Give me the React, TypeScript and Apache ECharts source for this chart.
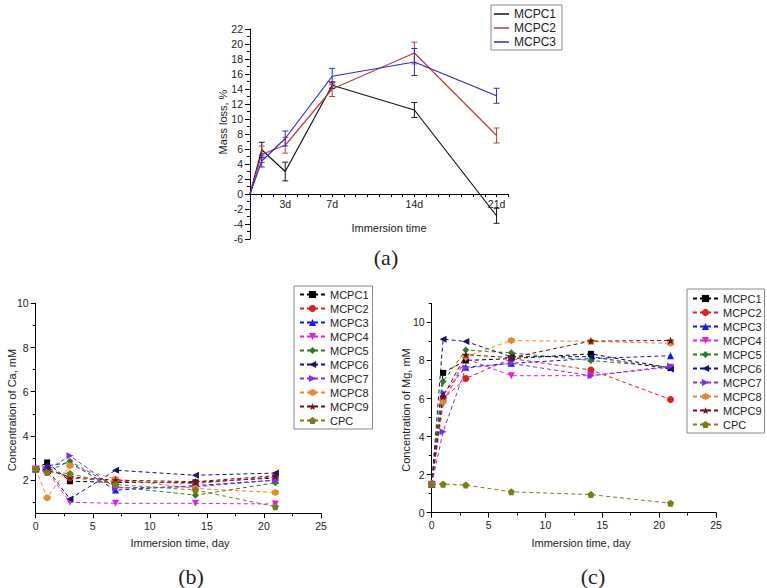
import React, { useEffect, useRef } from 'react';
import * as echarts from 'echarts';

// ---------- (a) Mass loss ----------
const daysA = [0, 1, 3, 7, 14, 21];
const namesA = ['MCPC1', 'MCPC2', 'MCPC3'];
const massLossMCPC1 = [0, 5.9, 3.0, 14.5, 11.2, -2.9];
const massLossMCPC2 = [0, 5.3, 6.5, 14.0, 18.8, 7.8];
const massLossMCPC3 = [0, 4.4, 7.4, 15.7, 17.6, 13.1];
const errMCPC1 = [0, 1.0, 1.25, 0.4, 1.0, 1.0];
const errMCPC2 = [0, 1.1, 1.05, 1.0, 1.45, 1.0];
const errMCPC3 = [0, 0.8, 1.0, 1.05, 1.8, 1.0];
const xTickLabelsA = [3, 7, 14, 21];
const yTicksA = [-6, 22];

// ---------- (b) Ca and (c) Mg ----------
const days = [0, 1, 3, 7, 14, 21];
const sampleNames = ['MCPC1', 'MCPC2', 'MCPC3', 'MCPC4', 'MCPC5', 'MCPC6', 'MCPC7', 'MCPC8', 'MCPC9', 'CPC'];

const caMCPC1 = [2.5, 2.8, 1.95, 1.9, 1.9, 2.1];
const caMCPC2 = [2.5, 2.55, 2.1, 1.95, 1.85, 2.15];
const caMCPC3 = [2.5, 2.65, 2.8, 1.55, 1.75, 2.0];
const caMCPC4 = [2.5, 2.4, 1.0, 0.95, 0.95, 0.92];
const caMCPC5 = [2.5, 2.4, 2.85, 1.7, 1.32, 1.88];
const caMCPC6 = [2.5, 2.5, 1.15, 2.45, 2.22, 2.32];
const caMCPC7 = [2.5, 2.45, 3.1, 1.65, 1.7, 2.0];
const caMCPC8 = [2.5, 1.2, 2.65, 2.05, 1.62, 1.44];
const caMCPC9 = [2.5, 2.45, 2.15, 2.0, 1.93, 2.2];
const caCPC = [2.5, 2.35, 2.3, 1.8, 1.55, 0.8];

const mgMCPC1 = [1.5, 7.35, 8.0, 8.1, 8.35, 7.6];
const mgMCPC2 = [1.5, 6.0, 7.05, 8.1, 7.5, 5.95];
const mgMCPC3 = [1.5, 6.25, 7.65, 7.85, 8.1, 8.25];
const mgMCPC4 = [1.5, 5.7, 8.1, 7.2, 7.2, 7.65];
const mgMCPC5 = [1.5, 6.9, 8.55, 8.4, 8.0, 7.65];
const mgMCPC6 = [1.5, 9.12, 9.0, 8.2, 8.2, 7.55];
const mgMCPC7 = [1.5, 4.25, 7.6, 7.85, 7.2, 7.7];
const mgMCPC8 = [1.5, 5.85, 8.2, 9.05, 9.0, 8.9];
const mgMCPC9 = [1.5, 6.1, 8.3, 8.15, 9.02, 9.05];
const mgCPC = [1.5, 1.5, 1.45, 1.1, 0.95, 0.5];

const caLabels = [2, 4, 6, 8, 10];
const caMinor = [1, 3, 5, 7, 9];
const mgLabels = [0, 2, 4, 6, 8, 10];
const mgMinor = [1, 3, 5, 7, 9, 11];

const caSeries = [caMCPC1, caMCPC2, caMCPC3, caMCPC4, caMCPC5, caMCPC6, caMCPC7, caMCPC8, caMCPC9, caCPC];
const mgSeries = [mgMCPC1, mgMCPC2, mgMCPC3, mgMCPC4, mgMCPC5, mgMCPC6, mgMCPC7, mgMCPC8, mgMCPC9, mgCPC];
const massSeries = [massLossMCPC1, massLossMCPC2, massLossMCPC3];
const errSeries = [errMCPC1, errMCPC2, errMCPC3];

// ---------- styles ----------
const FONT = 'Liberation Sans, Arial, sans-serif';
const SERIF = 'Liberation Serif, Times New Roman, serif';
const colorsA = ['#151515', '#c23a3a', '#2b2bd2'];
const colorsBC = ['#000000', '#e02020', '#1414ff', '#e020e0', '#2f7d1e', '#12127a', '#7b30f0', '#e8892e', '#6b1212', '#7d7d14'];
const HEX = 'path://M-8.66,-5 L0,-10 L8.66,-5 L8.66,5 L0,10 L-8.66,5 Z';
const STAR = 'path://M0,-10 L2.35,-3.24 L9.51,-3.09 L3.8,1.24 L5.88,8.09 L0,4 L-5.88,8.09 L-3.8,1.24 L-9.51,-3.09 L-2.35,-3.24 Z';
const PENT = 'path://M0,-10 L9.51,-3.09 L5.88,8.09 L-5.88,8.09 L-9.51,-3.09 Z';
const symbols = ['rect', 'circle', 'triangle', 'triangle', 'diamond', 'triangle', 'triangle', HEX, STAR, PENT];
const rotates = [0, 0, 0, 180, 0, 90, -90, 0, 0, 0];
const symSizes = [6, 7, 7, 7, 7, 7, 7, 7, 8, 7];

const lbl = { color: '#222', fontSize: 10.5, fontFamily: FONT };
const axLine = { show: true, onZero: false, lineStyle: { color: '#000', width: 1 } };
const tickStyle = { color: '#000', width: 1 };

function buildOption() {
  const series: any[] = [];
  // (a) lines
  massSeries.forEach((vals, i) => {
    series.push({
      type: 'line',
      name: 'a-' + namesA[i],
      xAxisIndex: 0,
      yAxisIndex: 0,
      symbol: 'none',
      data: daysA.map((d, j) => [d, vals[j]]),
      lineStyle: { color: colorsA[i], width: 1.2 },
      itemStyle: { color: colorsA[i] },
      z: 3,
    });
  });
  // (a) error bars
  massSeries.forEach((vals, i) => {
    const color = colorsA[i];
    series.push({
      type: 'custom',
      name: 'err-' + namesA[i],
      xAxisIndex: 0,
      yAxisIndex: 0,
      z: 4,
      encode: { x: 0, y: 1 },
      data: daysA.map((d, j) => [d, vals[j], errSeries[i][j]]).filter((r) => r[2] > 0),
      renderItem: (params: any, api: any) => {
        const x = api.value(0);
        const y = api.value(1);
        const e = api.value(2);
        const top = api.coord([x, y + e]);
        const bot = api.coord([x, y - e]);
        const hw = 3;
        const st = { stroke: color, lineWidth: 1 };
        return {
          type: 'group',
          children: [
            { type: 'line', shape: { x1: top[0], y1: top[1], x2: bot[0], y2: bot[1] }, style: st },
            { type: 'line', shape: { x1: top[0] - hw, y1: top[1], x2: top[0] + hw, y2: top[1] }, style: st },
            { type: 'line', shape: { x1: bot[0] - hw, y1: bot[1], x2: bot[0] + hw, y2: bot[1] }, style: st },
          ],
        };
      },
    });
  });
  // (b) and (c)
  const addPanel = (prefix: string, data: number[][], xi: number, yi: number) => {
    data.forEach((vals, i) => {
      series.push({
        type: 'line',
        name: prefix + sampleNames[i],
        xAxisIndex: xi,
        yAxisIndex: yi,
        symbol: symbols[i],
        symbolSize: symSizes[i],
        symbolRotate: rotates[i],
        showSymbol: true,
        data: days.map((d, j) => [d, vals[j]]),
        lineStyle: { color: colorsBC[i], width: 1, type: [4, 3] },
        itemStyle: { color: colorsBC[i] },
        z: 3,
      });
    });
  };
  addPanel('b-', caSeries, 1, 1);
  addPanel('c-', mgSeries, 2, 3);

  const legendCommon = {
    orient: 'vertical',
    selectedMode: false,
    borderColor: '#888',
    borderWidth: 1,
    backgroundColor: '#fff',
    formatter: (n: string) => n.slice(2),
  };

  const txt = (text: string, x: number, y: number, rot = 0, size = 11, family = FONT) => ({
    type: 'text',
    x,
    y,
    rotation: rot,
    style: {
      text,
      fontSize: size,
      fontFamily: family,
      fill: '#222',
      align: 'center',
      verticalAlign: 'middle',
      textAlign: 'center',
      textVerticalAlign: 'middle',
    },
  });

  return {
    animation: false,
    backgroundColor: '#fff',
    grid: [
      { left: 250, top: 29, width: 258.3, height: 210 },
      { left: 35.7, top: 303.3, width: 285.3, height: 210 },
      { left: 431.7, top: 303.4, width: 284.3, height: 209.3 },
    ],
    xAxis: [
      {
        gridIndex: 0,
        type: 'value',
        min: 0,
        max: 22,
        interval: 1,
        position: 'bottom',
        offset: -45,
        axisLine: axLine,
        axisTick: { show: true, length: 3, lineStyle: tickStyle },
        axisLabel: { ...lbl, customValues: xTickLabelsA, formatter: (v: number) => v + 'd', margin: 4 },
        splitLine: { show: false },
      },
      {
        gridIndex: 1,
        type: 'value',
        min: 0,
        max: 25,
        interval: 5,
        position: 'bottom',
        axisLine: axLine,
        axisTick: { show: true, length: 5, lineStyle: tickStyle },
        minorTick: { show: true, splitNumber: 2, length: 3, lineStyle: tickStyle },
        axisLabel: { ...lbl, margin: 7 },
        splitLine: { show: false },
      },
      {
        gridIndex: 2,
        type: 'value',
        min: 0,
        max: 25,
        interval: 5,
        position: 'bottom',
        axisLine: axLine,
        axisTick: { show: true, length: 5, lineStyle: tickStyle },
        minorTick: { show: true, splitNumber: 2, length: 3, lineStyle: tickStyle },
        axisLabel: { ...lbl, margin: 7 },
        splitLine: { show: false },
      },
    ],
    yAxis: [
      {
        gridIndex: 0,
        type: 'value',
        min: yTicksA[0],
        max: yTicksA[1],
        interval: 2,
        position: 'left',
        axisLine: axLine,
        axisTick: { show: true, length: 5, lineStyle: tickStyle },
        minorTick: { show: true, splitNumber: 2, length: 3, lineStyle: tickStyle },
        axisLabel: { ...lbl, margin: 7 },
        splitLine: { show: false },
      },
      {
        gridIndex: 1,
        type: 'value',
        min: 0.5,
        max: 10,
        position: 'left',
        axisLine: axLine,
        axisTick: { show: true, length: 5, customValues: caLabels, lineStyle: tickStyle },
        axisLabel: { ...lbl, customValues: caLabels, margin: 7 },
        splitLine: { show: false },
      },
      {
        gridIndex: 1,
        type: 'value',
        min: 0.5,
        max: 10,
        position: 'left',
        axisLine: { show: false, onZero: false },
        axisTick: { show: true, length: 3, customValues: caMinor, lineStyle: tickStyle },
        axisLabel: { show: false },
        splitLine: { show: false },
      },
      {
        gridIndex: 2,
        type: 'value',
        min: 0,
        max: 11,
        position: 'left',
        axisLine: axLine,
        axisTick: { show: true, length: 5, customValues: mgLabels, lineStyle: tickStyle },
        axisLabel: { ...lbl, customValues: mgLabels, margin: 7 },
        splitLine: { show: false },
      },
      {
        gridIndex: 2,
        type: 'value',
        min: 0,
        max: 11,
        position: 'left',
        axisLine: { show: false, onZero: false },
        axisTick: { show: true, length: 3, customValues: mgMinor, lineStyle: tickStyle },
        axisLabel: { show: false },
        splitLine: { show: false },
      },
    ],
    legend: [
      {
        ...legendCommon,
        data: namesA.map((n) => 'a-' + n),
        left: 491,
        top: 5,
        padding: [3, 6, 2, 3],
        icon: 'rect',
        itemWidth: 15,
        itemHeight: 1.5,
        itemGap: 2,
        textStyle: { fontSize: 12, lineHeight: 12, fontFamily: FONT, color: '#222' },
      },
      {
        ...legendCommon,
        data: sampleNames.map((n) => 'b-' + n),
        left: 294,
        top: 286,
        padding: [3, 4, 3, 5],
        itemWidth: 25,
        itemHeight: 9,
        itemGap: 3,
        textStyle: { fontSize: 11, lineHeight: 11, fontFamily: FONT, color: '#222' },
      },
      {
        ...legendCommon,
        data: sampleNames.map((n) => 'c-' + n),
        left: 687,
        top: 289,
        padding: [4, 3, 3, 5],
        itemWidth: 25,
        itemHeight: 9,
        itemGap: 3,
        textStyle: { fontSize: 11, lineHeight: 11, fontFamily: FONT, color: '#222' },
      },
    ],
    graphic: [
      txt('Mass loss, %', 223, 122, Math.PI / 2),
      txt('Immersion time', 389, 228),
      txt('Concentration of Ca, mM', 12, 410, Math.PI / 2),
      txt('Concentration of Mg, mM', 406, 410, Math.PI / 2),
      txt('Immersion time, day', 180, 543),
      txt('Immersion time, day', 581, 543),
      txt('(a)', 386, 257, 0, 22, SERIF),
      txt('(b)', 191, 576, 0, 22, SERIF),
      txt('(c)', 593, 576, 0, 22, SERIF),
    ],
    series,
  };
}

export default function App() {
  const ref = useRef<HTMLDivElement>(null);
  useEffect(() => {
    if (!ref.current) return;
    const chart = echarts.init(ref.current, undefined, { renderer: 'svg' });
    chart.setOption(buildOption() as any);
    return () => chart.dispose();
  }, []);
  return (
    <div
      ref={ref}
      style={{ position: 'absolute', left: 0, top: 0, width: 767, height: 588, background: '#fff' }}
    />
  );
}
